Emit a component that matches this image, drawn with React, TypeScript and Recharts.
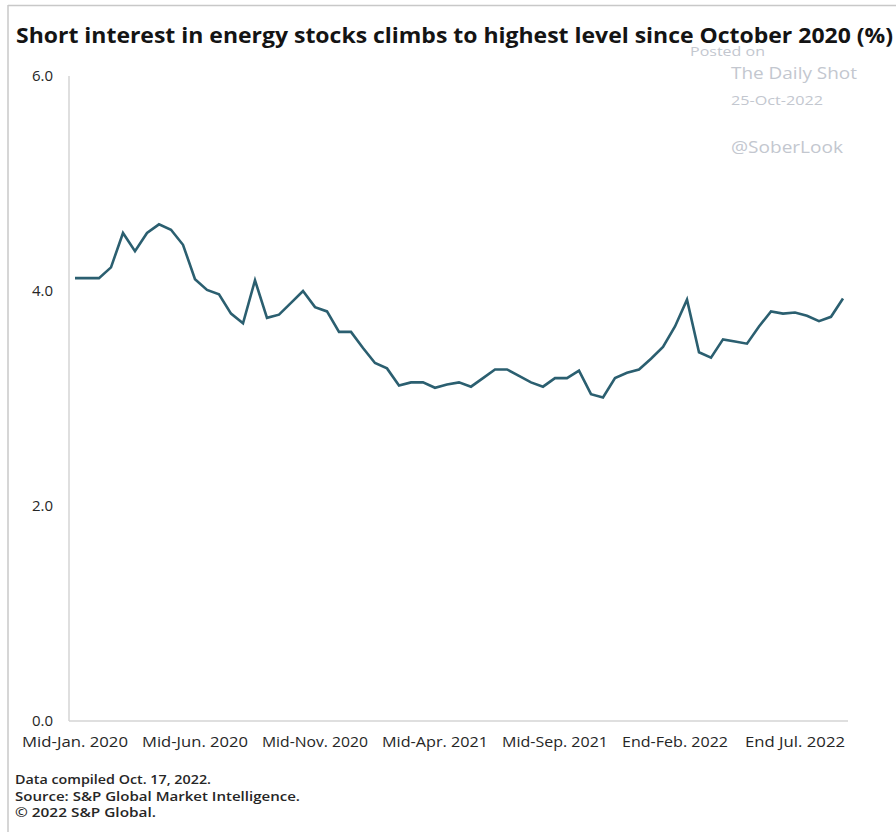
import React from 'react';
import { LineChart, Line, XAxis, YAxis } from 'recharts';

// short interest, % of shares, twice-monthly settlement dates
const SHORT_INTEREST = [
  4.12, 4.12, 4.12, 4.22, 4.54, 4.37, 4.54, 4.62, 4.57, 4.43,
  4.11, 4.01, 3.97, 3.79, 3.7, 4.1, 3.75, 3.78, 3.89, 4.0,
  3.85, 3.81, 3.62, 3.62, 3.47, 3.33, 3.28, 3.12, 3.15, 3.15,
  3.1, 3.13, 3.15, 3.11, 3.19, 3.27, 3.27, 3.21, 3.15, 3.11,
  3.19, 3.19, 3.26, 3.04, 3.01, 3.19, 3.24, 3.27, 3.37, 3.48,
  3.67, 3.92, 3.43, 3.38, 3.55, 3.53, 3.51, 3.67, 3.81, 3.79,
  3.8, 3.77, 3.72, 3.76, 3.93,
];

const X_TICKS = [0, 10, 20, 30, 40, 50, 60];
const X_TICK_LABELS = [
  'Mid-Jan. 2020',
  'Mid-Jun. 2020',
  'Mid-Nov. 2020',
  'Mid-Apr. 2021',
  'Mid-Sep. 2021',
  'End-Feb. 2022',
  'End Jul. 2022',
];
const Y_TICKS = [0, 2, 4, 6];

const TITLE = 'Short interest in energy stocks climbs to highest level since October 2020 (%)';
const FOOTNOTES = [
  'Data compiled Oct. 17, 2022.',
  'Source: S&P Global Market Intelligence.',
  '\u00a9 2022 S&P Global.',
];

const data = SHORT_INTEREST.map((v, i) => ({ idx: i, value: v }));

const AXIS_GRAY = '#d4d4d4';
const TEXT_DARK = '#262626';
const WATERMARK = '#c3c7cf';
const FONT = "'Open Sans', 'DejaVu Sans', sans-serif";

function XTick(props: any) {
  const { x, y, payload } = props;
  const label = X_TICK_LABELS[X_TICKS.indexOf(payload.value)] ?? '';
  return (
    <text
      x={x}
      y={y + 24}
      textAnchor="middle"
      fontSize={14.5}
      fill={TEXT_DARK}
      fontFamily={FONT}
      textLength={label.startsWith('End Jul') ? 100 : 106}
      lengthAdjust="spacingAndGlyphs"
    >
      {label}
    </text>
  );
}

export default function App(): JSX.Element {
  return (
    <div style={{ position: 'absolute', left: 0, top: 0, width: 896, height: 832, background: '#fff', fontFamily: FONT }}>
      <LineChart
        width={896}
        height={832}
        data={data}
        margin={{ top: 76, right: 48, bottom: 81, left: 0 }}
      >
        <XAxis
          dataKey="idx"
          type="number"
          domain={[0, SHORT_INTEREST.length - 1]}
          ticks={X_TICKS}
          padding={{ left: 6, right: 5 }}
          height={30}
          tickLine={false}
          tickSize={0}
          axisLine={{ stroke: AXIS_GRAY, strokeWidth: 1.5 }}
          tick={<XTick />}
          interval={0}
        />
        <YAxis
          type="number"
          domain={[0, 6]}
          ticks={Y_TICKS}
          tickFormatter={(v: number) => v.toFixed(1)}
          width={69}
          tickLine={false}
          tickSize={0}
          tickMargin={16}
          axisLine={{ stroke: AXIS_GRAY, strokeWidth: 1.5 }}
          tick={{ fill: TEXT_DARK, fontSize: 15, fontFamily: FONT }}
        />
        <Line
          type="linear"
          dataKey="value"
          stroke="#2b5f70"
          strokeWidth={2.6}
          dot={false}
          activeDot={false}
          isAnimationActive={false}
        />
      </LineChart>

      <svg
        width={896}
        height={832}
        style={{ position: 'absolute', left: 0, top: 0, pointerEvents: 'none' }}
      >
        {/* frame */}
        <line x1={8} y1={5.5} x2={896} y2={5.5} stroke="#c8c8c8" strokeWidth={1.5} />
        <line x1={8} y1={5} x2={8} y2={832} stroke="#c8c8c8" strokeWidth={1.5} />

        <text
          x={16}
          y={43}
          fontSize={21.5}
          fontWeight={700}
          fill="#141414"
          fontFamily={FONT}
          textLength={877}
          lengthAdjust="spacingAndGlyphs"
        >
          {TITLE}
        </text>

        {/* watermark */}
        <text x={690} y={56} fontSize={12.5} fill={WATERMARK} fontFamily={FONT} textLength={75} lengthAdjust="spacingAndGlyphs">
          Posted on
        </text>
        <text x={731} y={79} fontSize={17} fill={WATERMARK} fontFamily={FONT} textLength={126} lengthAdjust="spacingAndGlyphs">
          The Daily Shot
        </text>
        <text x={731} y={105} fontSize={12} fill={WATERMARK} fontFamily={FONT} textLength={92} lengthAdjust="spacingAndGlyphs">
          25-Oct-2022
        </text>
        <text x={731} y={153} fontSize={17} fill={WATERMARK} fontFamily={FONT} textLength={112} lengthAdjust="spacingAndGlyphs">
          @SoberLook
        </text>

        {FOOTNOTES.map((line, i) => (
          <text
            key={line}
            x={15}
            y={784 + i * 16.5}
            fontSize={13}
            fontWeight={600}
            fill={TEXT_DARK}
            fontFamily={FONT}
            textLength={[196, 285, 141][i]}
            lengthAdjust="spacingAndGlyphs"
          >
            {line}
          </text>
        ))}
      </svg>
    </div>
  );
}
